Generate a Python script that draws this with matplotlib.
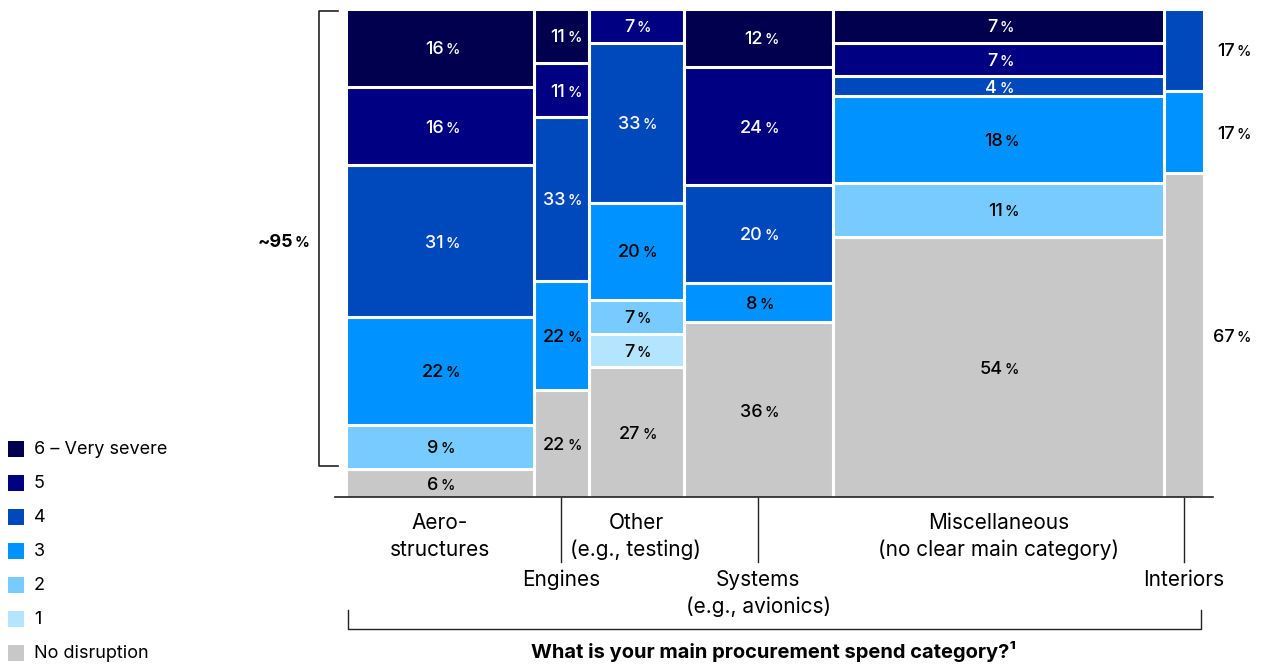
import numpy as np
import matplotlib
matplotlib.use("Agg")
import matplotlib.pyplot as plt
from matplotlib.lines import Line2D
from matplotlib.patches import Rectangle

plt.rcParams['font.family'] = ['Inter', 'DejaVu Sans']

categories = ["Aero-\nstructures", "Engines", "Other\n(e.g., testing)",
              "Systems\n(e.g., avionics)", "Miscellaneous\n(no clear main category)", "Interiors"]
col_widths = [188, 55, 95, 149.5, 330.5, 40.5]
levels = ["6 – Very severe", "5", "4", "3", "2", "1", "No disruption"]
colors = ["#00004f", "#000082", "#0049bd", "#0093ff", "#78cbff", "#b3e5ff", "#c8c8c8"]
text_colors = ["white", "white", "white", "black", "black", "black", "black"]

# shares per level (top to bottom), one list per category
aero = [16, 16, 31, 22, 9, 0, 6]
engines = [11, 11, 33, 22, 0, 0, 22]
other = [0, 7, 33, 20, 7, 7, 27]
systems = [12, 24, 20, 8, 0, 0, 36]
misc = [7, 7, 4, 18, 11, 0, 54]
interiors = [0, 0, 17, 17, 0, 0, 67]
values = np.array([aero, engines, other, systems, misc, interiors], dtype=float)

W, H = 1263, 664
fig = plt.figure(figsize=(W / 100, H / 100), dpi=100)

x0, ytop, ybot = 345.5, 8.6, 498.4
total_w = sum(col_widths)
ax = fig.add_axes([x0 / W, (H - ybot) / H, total_w / W, (ybot - ytop) / H])
ax.set_xlim(0, total_w)
ax.set_ylim(0, 100)
ax.axis('off')

def FX(px):
    return px / W

def FY(py):
    return 1 - py / H

def pct(x, y, v, color, fs=13, fs2=10.5, transform=None, weight='medium'):
    # number followed by a smaller percent sign, centred on (x, y)
    s = str(v)
    dw = 0.6 * fs * len(s)
    pw = 0.75 * fs2
    gap = 1.4
    start = -(dw + gap + pw) / 2
    tr = transform if transform is not None else ax.transData
    ax.annotate(s, (x, y), xycoords=tr, xytext=(start + dw, -4.6), textcoords='offset points',
                ha='right', va='baseline', fontsize=fs, color=color, weight=weight, annotation_clip=False)
    ax.annotate('%', (x, y), xycoords=tr, xytext=(start + dw + gap, -4.6), textcoords='offset points',
                ha='left', va='baseline', fontsize=fs2, color=color, weight=weight, annotation_clip=False)

lefts = np.concatenate([[0], np.cumsum(col_widths)[:-1]])
norm = values / values.sum(axis=1, keepdims=True) * 100
centers = lefts + np.array(col_widths) / 2

# stack from the bottom: "No disruption" first
bottoms = np.zeros(len(categories))
for i in range(len(levels) - 1, -1, -1):
    h = norm[:, i]
    m = h > 0
    ax.bar(lefts[m], h[m], width=np.array(col_widths)[m], bottom=bottoms[m], align='edge',
           color=colors[i], edgecolor='white', linewidth=2.2)
    for j in np.where(m)[0]:
        yc = bottoms[j] + h[j] / 2
        if j == len(categories) - 1:
            pct(total_w + 26, yc, int(values[j, i]), 'black')
        else:
            pct(centers[j], yc, int(values[j, i]), text_colors[i])
    bottoms = bottoms + h

# baseline and category ticks
fig.add_artist(Line2D([FX(335), FX(1213)], [FY(497.3), FY(497.3)], color='#222222', lw=1.2))
low = [1, 3, 5]
for j, cat in enumerate(categories):
    cx = FX(x0 + centers[j])
    if j in low:
        fig.add_artist(Line2D([cx, cx], [FY(498), FY(562)], color='#222222', lw=1))
        fig.text(cx, FY(570), cat, ha='center', va='top', fontsize=15, linespacing=1.42)
    else:
        fig.text(cx, FY(513), cat, ha='center', va='top', fontsize=15, linespacing=1.42)

# left bracket for ~95%
fig.add_artist(Line2D([FX(337.7), FX(319.3), FX(319.3), FX(337.7)],
                      [FY(10.5), FY(10.5), FY(466), FY(466)], color='#222222', lw=1.2))
pct(FX(283), FY(241), '~95', 'black', transform=fig.transFigure, weight='bold')

# bottom bracket and title
fig.add_artist(Line2D([FX(347.5), FX(347.5), FX(1201), FX(1201)],
                      [FY(610), FY(628.5), FY(628.5), FY(610)], color='#222222', lw=1))
fig.text(FX(774), FY(652), "What is your main procurement spend category?¹",
         ha='center', va='center', fontsize=14.5, weight='bold')

# legend
for i, lab in enumerate(levels):
    yc = 449 + 34 * i
    fig.add_artist(Rectangle((FX(8), FY(yc + 8)), 16 / W, 16 / H, transform=fig.transFigure,
                             color=colors[i], lw=0))
    fig.text(FX(34), FY(yc), lab, ha='left', va='center', fontsize=13)

fig.savefig("out.png", dpi=100)
